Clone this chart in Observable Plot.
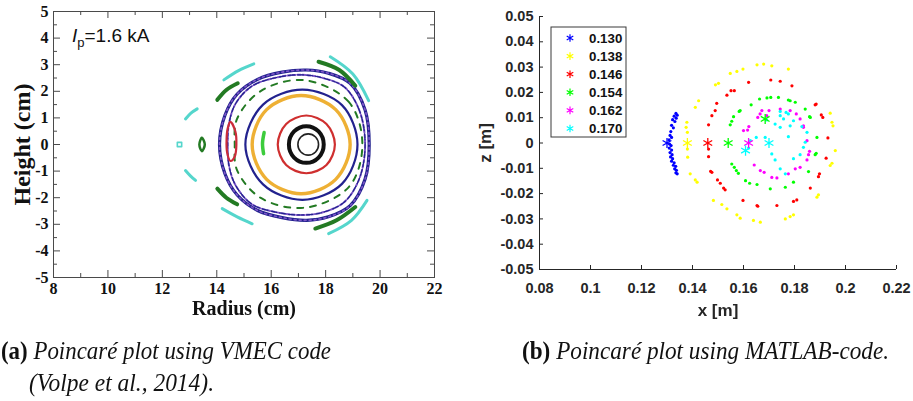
<!DOCTYPE html>
<html>
<head>
<meta charset="utf-8">
<script src="https://cdn.jsdelivr.net/npm/d3@7"></script>
<script src="https://cdn.jsdelivr.net/npm/@observablehq/plot@0.6"></script>
<style>
  body { margin: 0; background: #fff; }
  #fig { position: relative; width: 913px; height: 401px; overflow: hidden; background: #fff; }
  #left { position: absolute; left: 0; top: 0; filter: blur(0.35px); }
  #right { position: absolute; left: 460px; top: 0; }
  #cap { position: absolute; left: 0; top: 320px; }
</style>
</head>
<body>
<div id="fig">
  <div id="left"></div>
  <div id="right"></div>
  <svg id="cap" width="913" height="81"></svg>
</div>
<script>
// ---------- Panel (a): VMEC flux-surface traces, R–Z plane (cm) ----------
const radiusTicks = [8, 10, 12, 14, 16, 18, 20, 22];
const radiusMinor = [9, 11, 13, 15, 17, 19, 21];
const heightTicks = [-5, -4, -3, -2, -1, 0, 1, 2, 3, 4, 5];
const heightMinor = [-4.5, -3.5, -2.5, -1.5, -0.5, 0.5, 1.5, 2.5, 3.5, 4.5];

// closed surfaces, [radius, height]
const coreInner = [[17.74,0],[17.63,0.28],[17.36,0.40],[17.09,0.28],[16.98,0],[17.09,-0.28],[17.36,-0.40],[17.63,-0.28]];
const coreOuter = [[17.93,0],[17.74,0.49],[17.29,0.69],[16.84,0.49],[16.65,0],[16.84,-0.49],[17.29,-0.69],[17.74,-0.49]];
const redSurface = [[18.34,0],[18.03,0.77],[17.29,1.09],[16.55,0.77],[16.24,0],[16.55,-0.77],[17.29,-1.08],[18.03,-0.77]];
const goldSurface = [[18.90,0],[18.37,1.31],[17.10,1.84],[15.83,1.31],[15.30,0],[15.83,-1.31],[17.10,-1.85],[18.37,-1.31]];
const navySurface = [[19.17,0],[18.60,1.48],[17.15,2.06],[15.70,1.50],[15.05,0],[15.70,-1.50],[17.15,-2.08],[18.60,-1.48]];
const islandChain = [[19.35,0],[18.85,1.60],[17.20,2.42],[15.60,2.00],[14.74,0.95],[14.66,0],[14.74,-0.95],[15.60,-2.00],[17.20,-2.38],[18.85,-1.60]];
const stochInner = [[19.45,0],[19.25,1.25],[18.70,2.15],[17.90,2.50],[17.10,2.62],[16.20,2.52],[15.30,2.20],[14.70,1.55],[14.45,0.80],[14.40,0],[14.45,-0.80],[14.70,-1.55],[15.30,-2.25],[16.20,-2.55],[17.10,-2.65],[17.90,-2.55],[18.70,-2.15],[19.25,-1.25]];
const stochOuter = [[19.60,0],[19.45,1.30],[18.90,2.30],[18.10,2.68],[17.30,2.80],[16.40,2.72],[15.50,2.45],[14.75,1.90],[14.30,1.10],[14.10,0],[14.30,-1.10],[14.75,-1.90],[15.50,-2.48],[16.40,-2.75],[17.30,-2.85],[18.10,-2.72],[18.90,-2.30],[19.45,-1.30]];
const redCrescent = [[14.50,0.85],[14.68,0.50],[14.72,0],[14.66,-0.45],[14.50,-0.62],[14.38,-0.30],[14.36,0.20],[14.40,0.60]];
const greenIsland = [[13.56,0],[13.45,0.25],[13.36,0],[13.45,-0.25]];
const cyanIsland = [[12.55,0.08],[12.71,0.08],[12.71,-0.08],[12.55,-0.08]];

// open island arcs
const limeArc = [[15.74,0.45],[15.68,0.05],[15.72,-0.35]];
const greenArcs = [
  [[14.02,1.68],[14.35,2.05],[14.77,2.30]],
  [[14.02,-1.66],[14.35,-2.00],[14.75,-2.25]],
  [[17.74,3.11],[18.50,2.80],[19.09,2.21]],
  [[17.62,-3.16],[18.40,-2.85],[19.09,-2.35]]
];
const cyanArcs = [
  [[12.85,0.96],[13.05,1.18],[13.28,1.34]],
  [[12.85,-0.98],[13.03,-1.18],[13.22,-1.35]],
  [[14.26,2.43],[14.80,2.78],[15.36,3.03]],
  [[14.20,-2.41],[14.75,-2.72],[15.30,-2.98]],
  [[18.17,3.30],[19.00,2.65],[19.58,1.65]],
  [[19.52,-2.10],[18.95,-2.85],[18.11,-3.35]]
];

const navy = "#22228e", purple = "#7d55c8", dkgreen = "#237a23", turq = "#55d6cc";
const surfaces = [
  {pts: stochOuter, color: navy, w: 3.2, curve: "catmull-rom-closed"},
  {pts: stochOuter, color: purple, w: 1.6, dash: "2,3", curve: "catmull-rom-closed"},
  {pts: stochInner, color: purple, w: 2, dash: "3,2", curve: "catmull-rom-closed"},
  {pts: stochInner, color: navy, w: 1.2, dash: "6,3", curve: "catmull-rom-closed"},
  {pts: islandChain, color: dkgreen, w: 2, dash: "6,7", curve: "catmull-rom-closed"},
  {pts: redCrescent, color: "#cc2c3a", w: 2.2, curve: "catmull-rom-closed"},
  {pts: navySurface, color: navy, w: 2.2, curve: "catmull-rom-closed"},
  {pts: goldSurface, color: "#eeb034", w: 3.4, curve: "catmull-rom-closed"},
  {pts: redSurface, color: "#cf2f2f", w: 2.2, curve: "catmull-rom-closed"},
  {pts: coreOuter, color: "#111", w: 4, curve: "catmull-rom-closed"},
  {pts: coreInner, color: "#222", w: 1.6, curve: "catmull-rom-closed"},
  {pts: greenIsland, color: dkgreen, w: 2.5, curve: "catmull-rom-closed"},
  {pts: cyanIsland, color: turq, w: 1.6, curve: "linear-closed"},
  {pts: limeArc, color: "#3ccc3c", w: 3.5, curve: "catmull-rom"},
  ...greenArcs.map(pts => ({pts, color: dkgreen, w: 4, curve: "catmull-rom"})),
  ...cyanArcs.map(pts => ({pts, color: turq, w: 3, curve: "catmull-rom"}))
];

const L = {w: 460, h: 320, ml: 53, mr: 26, mt: 11, mb: 43};
const lw = L.w - L.ml - L.mr, lh = L.h - L.mt - L.mb;
const xy = {x: d => d[0], y: d => d[1]};
const axisGrey = "#4a4a4a";
const serif = "'Liberation Serif', 'Times New Roman', serif";
const sans = "'Liberation Sans', Arial, sans-serif";

const left = Plot.plot({
  width: L.w, height: L.h,
  marginLeft: L.ml, marginRight: L.mr, marginTop: L.mt, marginBottom: L.mb,
  x: {domain: [8, 22]},
  y: {domain: [-5, 5]},
  style: {fontFamily: serif, fontSize: "16px", fontWeight: "bold", color: "#111", background: "white", overflow: "visible"},
  marks: [
    ...surfaces.map(s => Plot.line(s.pts, {...xy, stroke: s.color, strokeWidth: s.w, strokeDasharray: s.dash, curve: s.curve, strokeLinecap: "round"})),
    Plot.frame({stroke: axisGrey}),
    Plot.tickX(radiusTicks, {x: d => d, insetTop: lh - 7, stroke: axisGrey}),
    Plot.tickX(radiusTicks, {x: d => d, insetBottom: lh - 7, stroke: axisGrey}),
    Plot.tickX(radiusMinor, {x: d => d, insetTop: lh - 4, stroke: axisGrey}),
    Plot.tickX(radiusMinor, {x: d => d, insetBottom: lh - 4, stroke: axisGrey}),
    Plot.tickY(heightTicks, {y: d => d, insetRight: lw - 7, stroke: axisGrey}),
    Plot.tickY(heightTicks, {y: d => d, insetLeft: lw - 7, stroke: axisGrey}),
    Plot.tickY(heightMinor, {y: d => d, insetRight: lw - 4, stroke: axisGrey}),
    Plot.tickY(heightMinor, {y: d => d, insetLeft: lw - 4, stroke: axisGrey}),
    Plot.axisX(radiusTicks, {tickSize: 0, tickPadding: 5, label: null, tickFormat: d => String(d)}),
    Plot.axisY(heightTicks, {tickSize: 0, tickPadding: 5, label: null, tickFormat: d => String(d)}),
    Plot.text(["Radius (cm)"], {frameAnchor: "bottom", dy: 31, lineAnchor: "middle", textAnchor: "middle", fontFamily: serif, fontSize: 20, fontWeight: "bold", fill: "#111"}),
    Plot.text(["Height (cm)"], {frameAnchor: "left", dx: -31, rotate: -90, lineAnchor: "middle", textAnchor: "middle", fontFamily: serif, fontSize: 24, fontWeight: "bold", fill: "#111"})
  ]
});
document.getElementById("left").appendChild(left);

// serif bold tick numbers
d3.select(left).selectAll('[aria-label$="tick label"] text')
  .style("font-family", serif).style("font-weight", "bold").style("font-size", "16px").style("fill", "#111");

// plasma-current annotation
const ip = d3.select(left).append("text")
  .attr("x", 72).attr("y", 42).attr("text-anchor", "start")
  .style("font-family", sans).style("font-size", "19px").style("font-weight", "normal").attr("fill", "#111");
ip.append("tspan").attr("font-style", "italic").text("I");
ip.append("tspan").attr("font-size", 13).attr("dy", 5).text("p");
ip.append("tspan").attr("dy", -5).text("=1.6 kA");

// ---------- Panel (b): field-line tracing, x–z plane (m) ----------
const xTicks = [0.08, 0.10, 0.12, 0.14, 0.16, 0.18, 0.20, 0.22];
const zTicks = [-0.05, -0.04, -0.03, -0.02, -0.01, 0, 0.01, 0.02, 0.03, 0.04, 0.05];
const startRadii = [0.130, 0.138, 0.146, 0.154, 0.162, 0.170];
const legendLabels = ["0.130", "0.138", "0.146", "0.154", "0.162", "0.170"];
const seriesColors = ["#0000ff", "#ffff00", "#ff0000", "#00ff00", "#ff00ff", "#00ffff"];

const pts130 = [[0.1335,0.0117],[0.1340,0.0110],[0.1328,0.0106],[0.1336,0.0098],[0.1322,0.0092],[0.1331,0.0085],[0.1318,0.0070],[0.1325,0.0060],[0.1315,0.0045],[0.1312,0.0030],[0.1318,0.0022],[0.1308,0.0012],[0.1310,-0.0004],[0.1316,-0.0010],[0.1309,-0.0020],[0.1318,-0.0028],[0.1312,-0.0038],[0.1320,-0.0046],[0.1314,-0.0055],[0.1322,-0.0062],[0.1318,-0.0072],[0.1328,-0.0078],[0.1325,-0.0088],[0.1334,-0.0092],[0.1330,-0.0102],[0.1337,-0.0108],[0.1335,-0.0118],[0.1340,-0.0122]];
const pts138 = [[0.1679,0.0312],[0.1653,0.0309],[0.1711,0.0305],[0.1598,0.0292],[0.1574,0.0283],[0.1548,0.0275],[0.1502,0.0236],[0.1490,0.0230],[0.1424,0.0167],[0.1411,0.0141],[0.1378,0.0082],[0.1375,0.0062],[0.1380,0.0042],[0.1380,-0.0024],[0.1381,-0.0056],[0.1391,-0.0122],[0.1411,-0.0146],[0.1418,-0.0155],[0.1482,-0.0227],[0.1515,-0.0243],[0.1535,-0.0260],[0.1574,-0.0284],[0.1587,-0.0297],[0.1639,-0.0306],[0.1666,-0.0313],[0.1764,-0.0300],[0.1783,-0.0291],[0.1796,-0.0284],[0.1888,-0.0214],[0.1894,-0.0205],[0.1940,-0.0089],[0.1947,-0.0080],[0.1960,-0.0030],[0.1951,0.0068],[0.1947,0.0082],[0.1940,0.0118],[0.1776,0.0292]];
const pts146 = [[0.1707,0.0249],[0.1744,0.0244],[0.1620,0.0240],[0.1790,0.0226],[0.1551,0.0207],[0.1564,0.0207],[0.1535,0.0189],[0.1495,0.0157],[0.1489,0.0128],[0.1476,0.0108],[0.1463,0.0072],[0.1463,-0.0024],[0.1463,-0.0054],[0.1471,-0.0112],[0.1476,-0.0116],[0.1498,-0.0146],[0.1509,-0.0159],[0.1522,-0.0178],[0.1528,-0.0185],[0.1598,-0.0227],[0.1653,-0.0247],[0.1656,-0.0250],[0.1731,-0.0247],[0.1796,-0.0231],[0.1809,-0.0225],[0.1862,-0.0178],[0.1894,-0.0133],[0.1898,-0.0122],[0.1924,-0.0060],[0.1931,0.0020],[0.1911,0.0101],[0.1905,0.0111],[0.1885,0.0154],[0.1881,0.0151]];
const pts154 = [[0.1692,0.0178],[0.1707,0.0180],[0.1663,0.0174],[0.1630,0.0151],[0.1587,0.0128],[0.1583,0.0125],[0.1561,0.0104],[0.1554,0.0086],[0.1548,0.0072],[0.1554,-0.0083],[0.1564,-0.0096],[0.1572,-0.0109],[0.1580,-0.0120],[0.1608,-0.0149],[0.1624,-0.0159],[0.1653,-0.0164],[0.1705,-0.0181],[0.1764,-0.0175],[0.1796,-0.0155],[0.1855,-0.0113],[0.1881,-0.0046],[0.1885,-0.0041],[0.1888,0.0022],[0.1859,0.0104],[0.1862,0.0101],[0.1842,0.0134],[0.1803,0.0161],[0.1783,0.0167],[0.1776,0.0170],[0.1737,0.0180]];
const pts162 = [[0.1672,0.0128],[0.1656,0.0101],[0.1665,0.0115],[0.1691,0.0108],[0.1600,0.0049],[0.1616,0.0051],[0.1621,0.0065],[0.1642,-0.0087],[0.1666,-0.0109],[0.1681,-0.0116],[0.1711,-0.0136],[0.1731,-0.0138],[0.1776,-0.0122],[0.1803,-0.0102],[0.1822,-0.0096],[0.1849,-0.0067],[0.1855,-0.0046],[0.1859,-0.0033],[0.1849,0.0009],[0.1835,0.0062],[0.1835,0.0068],[0.1822,0.0095],[0.1807,0.0115],[0.1783,0.0128],[0.1744,0.0134],[0.1700,0.0128]];
const pts170 = [[0.1744,0.0125],[0.1767,0.0121],[0.1691,0.0091],[0.1757,0.0095],[0.1796,0.0088],[0.1829,0.0065],[0.1724,0.0075],[0.1744,0.0108],[0.1776,0.0115],[0.1783,0.0068],[0.1744,0.0062],[0.1776,0.0025],[0.1685,0.0022],[0.1650,0.0022],[0.1627,0.0009],[0.1711,-0.0043],[0.1724,-0.0067],[0.1744,-0.0102],[0.1764,-0.0122],[0.1796,-0.0062],[0.1822,-0.0046],[0.1835,-0.0017],[0.1842,0.0003],[0.1849,0.0042],[0.1620,-0.0020]];
const seriesPoints = [pts130, pts138, pts146, pts154, pts162, pts170];

// additional launch markers [x, z, series index]
const extraStars = [[0.1685, 0.0095, 3], [0.1608, -0.0030, 5]];

const pointRows = seriesPoints.flatMap((pts, i) => pts.map(([x, z]) => ({x, z, color: seriesColors[i]})));
const starRows = startRadii.map((x, i) => ({x, z: 0, color: seriesColors[i]}))
  .concat(extraStars.map(([x, z, i]) => ({x, z, color: seriesColors[i]})));

const R = {w: 453, h: 320, ml: 79, mr: 17, mt: 16, mb: 51};
const rw = R.w - R.ml - R.mr, rh = R.h - R.mt - R.mb;
const ink = "#262626";
const matFmt = d => String(Math.round(d * 100) / 100);

const right = Plot.plot({
  width: R.w, height: R.h,
  marginLeft: R.ml, marginRight: R.mr, marginTop: R.mt, marginBottom: R.mb,
  x: {domain: [0.08, 0.22]},
  y: {domain: [-0.05, 0.05]},
  color: {type: "identity"},
  style: {fontFamily: sans, fontSize: "14.5px", fontWeight: "bold", color: ink, background: "white", overflow: "visible"},
  marks: [
    Plot.dot(pointRows, {x: "x", y: "z", fill: "color", r: 1.6}),
    Plot.dot(starRows, {x: "x", y: "z", stroke: "color", symbol: "asterisk", r: 4.8, strokeWidth: 1.3}),
    Plot.ruleX([0.08], {stroke: ink}),
    Plot.ruleY([-0.05], {stroke: ink}),
    Plot.tickX(xTicks, {x: d => d, insetTop: rh - 4, stroke: ink}),
    Plot.tickY(zTicks, {y: d => d, insetRight: rw - 4, stroke: ink}),
    Plot.axisX(xTicks, {tickSize: 0, tickPadding: 13, label: null, tickFormat: matFmt}),
    Plot.axisY(zTicks, {tickSize: 0, tickPadding: 6, label: null, tickFormat: matFmt}),
    Plot.text(["x [m]"], {frameAnchor: "bottom", dy: 41, lineAnchor: "middle", textAnchor: "middle", fontFamily: sans, fontSize: 17, fontWeight: "bold", fill: ink}),
    Plot.text(["z [m]"], {frameAnchor: "left", dx: -54, rotate: -90, lineAnchor: "middle", textAnchor: "middle", fontFamily: sans, fontSize: 17, fontWeight: "bold", fill: ink})
  ]
});
document.getElementById("right").appendChild(right);

d3.select(right).selectAll('[aria-label$="tick label"] text')
  .style("font-family", sans).style("font-weight", "bold").style("font-size", "14.5px").style("fill", ink);

// legend box in the upper-left of the axes
const lg = d3.select(right).append("g").attr("transform", "translate(91,27)");
lg.append("rect").attr("width", 75).attr("height", 110).attr("fill", "white").attr("stroke", "#3a3a3a");
legendLabels.forEach((lab, i) => {
  const y = 11 + i * 18.1;
  lg.append("path").attr("transform", `translate(19,${y})`)
    .attr("d", d3.symbol(d3.symbolAsterisk, 40)())
    .attr("fill", "none").attr("stroke", seriesColors[i]).attr("stroke-width", 1.2);
  lg.append("text").attr("x", 38).attr("y", y).attr("dy", "0.36em").attr("text-anchor", "start")
    .style("font-family", sans).style("font-size", "13.3px").style("font-weight", "bold").attr("fill", "#111").text(lab);
});

// ---------- sub-figure captions ----------
const cap = d3.select("#cap")
  .attr("font-family", serif)
  .attr("font-size", 23).attr("fill", "#111");
function caption(x, y, len, parts) {
  const t = cap.append("text")
    .attr("transform", `translate(${x},${y}) scale(1,1.12)`)
    .attr("textLength", len).attr("lengthAdjust", "spacingAndGlyphs");
  parts.forEach(([s, bold]) => t.append("tspan")
    .attr("font-weight", bold ? "bold" : "normal")
    .attr("font-style", bold ? "normal" : "italic").text(s));
}
caption(1, 39, 330, [["(a)", true], [" Poincaré plot using VMEC code", false]]);
caption(29, 71, 185, [["(Volpe et al., 2014).", false]]);
caption(522, 39, 367, [["(b)", true], [" Poincaré plot using MATLAB-code.", false]]);
</script>
</body>
</html>
